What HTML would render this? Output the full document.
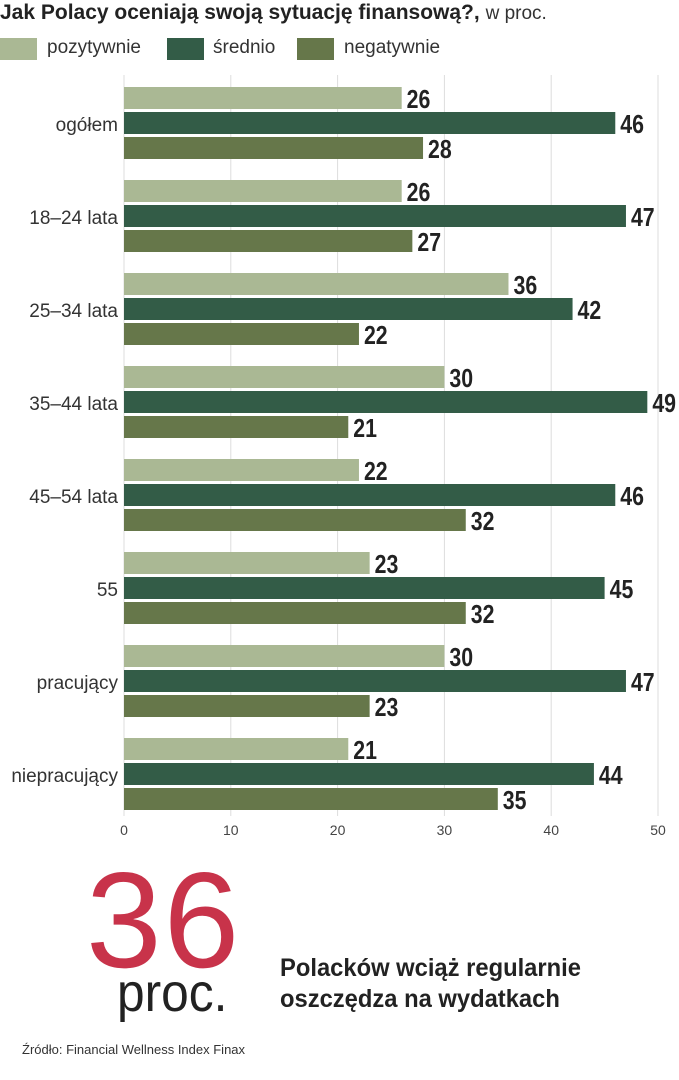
<!DOCTYPE html>
<html><head><meta charset="utf-8"><style>
body{margin:0;width:679px;height:1080px;background:#fff;position:relative;overflow:hidden;font-family:"Liberation Sans",sans-serif;color:#222}
.a{position:absolute;white-space:nowrap}
.sw{position:absolute;width:37px;height:22px}
</style></head><body>
<div class="a" style="left:0;top:1px;font-size:21px;"><b>Jak Polacy oceniają swoją sytuację finansową?,</b> <span style="font-size:19px;color:#333">w proc.</span></div>
<div>
<div class="sw" style="left:0;top:38px;background:#aab894"></div>
<div class="a" style="left:47px;top:37px;font-size:19px;color:#333">pozytywnie</div>
<div class="sw" style="left:167px;top:38px;background:#335c47"></div>
<div class="a" style="left:213px;top:37px;font-size:19px;color:#333">średnio</div>
<div class="sw" style="left:297px;top:38px;background:#66774a"></div>
<div class="a" style="left:344px;top:37px;font-size:19px;color:#333">negatywnie</div>
</div>
<svg id="chart" width="679" height="850" style="position:absolute;left:0;top:0"></svg>
<div class="a" style="left:86px;top:842px;font-size:136px;color:#c8334a;letter-spacing:2px;">36</div>
<div class="a" style="left:117px;top:962px;font-size:54px;color:#222;transform:scaleX(0.92);transform-origin:left;">proc.</div>
<div class="a" style="left:280px;top:953px;font-size:25px;line-height:31px;font-weight:bold;transform:scaleX(0.95);transform-origin:left;">Polacków wciąż regularnie<br>oszczędza na wydatkach</div>
<div class="a" style="left:22px;top:1042px;font-size:13px;color:#333">Źródło: Financial Wellness Index Finax</div>
<script>
const categories=["ogółem","18–24 lata","25–34 lata","35–44 lata","45–54 lata","55","pracujący","niepracujący"];
const pozytywnie=[26,26,36,30,22,23,30,21];
const srednio=[46,47,42,49,46,45,47,44];
const negatywnie=[28,27,22,21,32,32,23,35];
const ticks=[0,10,20,30,40,50];
const svg=document.getElementById('chart');
const NS='http://www.w3.org/2000/svg';
const x=v=>124+v*10.68;
const gy=i=>87+i*93;
function mk(t,a){const e=document.createElementNS(NS,t);for(const k in a)e.setAttribute(k,a[k]);svg.appendChild(e);return e;}
ticks.forEach(t=>{
  const g=mk('line',{x1:x(t),x2:x(t),y1:75,y2:816,stroke:'#ddd','stroke-width':1});
  
  
  const l=mk('text',{x:x(t),y:835,'text-anchor':'middle','font-size':14,fill:'#444','font-family':'Liberation Sans, sans-serif'});
  l.textContent=t;
  
  
});
const series=[[pozytywnie,'#aab894','pozytywnie'],[srednio,'#335c47','srednio'],[negatywnie,'#66774a','negatywnie']];
categories.forEach((c,i)=>{
  const cl=mk('text',{x:118,y:gy(i)+44,'text-anchor':'end','font-size':19,fill:'#333','font-family':'Liberation Sans, sans-serif'});
  cl.textContent=c;
  
  
  series.forEach((s,j)=>{
    const v=s[0][i];const y=gy(i)+j*25;
    const r=mk('rect',{x:x(0),y:y,width:x(v)-x(0),height:22,fill:s[1]});
    
    
    const t=mk('text',{transform:'translate('+(x(v)+5)+','+(y+21)+') scale(0.82,1)','font-size':26,'font-weight':'bold',fill:'#222','font-family':'Liberation Sans, sans-serif'});
    t.textContent=v;
    
    
  });
});
</script>
</body></html>
